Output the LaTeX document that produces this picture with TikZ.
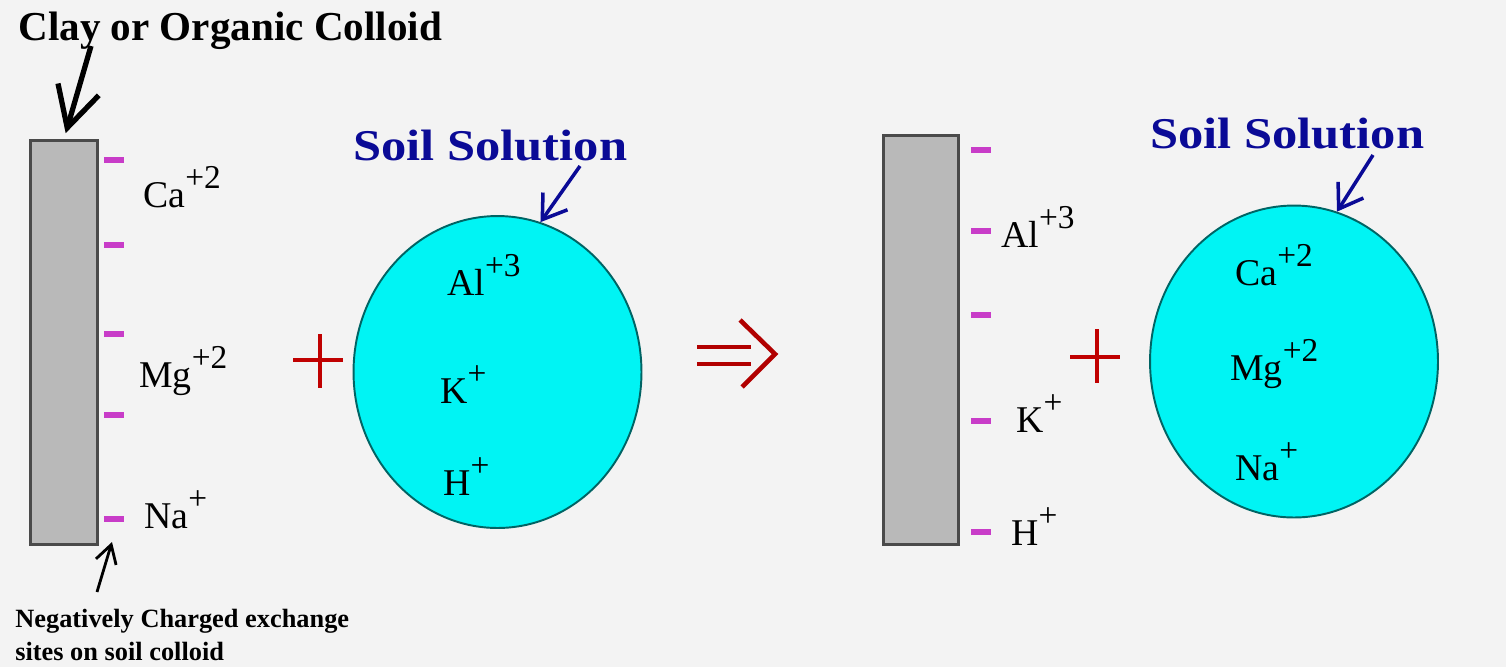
\documentclass[tikz,border=0pt]{standalone}
\usepackage{fontspec}
\setmainfont{Liberation Serif}
\usepackage{tikz}
\usetikzlibrary{arrows.meta,shapes.geometric}

\definecolor{bgcol}{HTML}{F3F3F3}
\definecolor{plategray}{HTML}{B9B9B9}
\definecolor{plateedge}{HTML}{4A4A4A}
\definecolor{cyanfill}{HTML}{00F4F4}
\definecolor{tealedge}{HTML}{006464}
\definecolor{minuscol}{HTML}{C83CC8}
\definecolor{solblue}{HTML}{0A0A96}
\definecolor{plusred}{HTML}{C00000}

\newcommand{\chg}[1]{\raisebox{0.5em}{\fontsize{19}{19}\selectfont #1}}

\begin{document}
\begin{tikzpicture}[x=0.02cm,y=-0.02cm,
  plate/.style={draw=plateedge,line width=1.8pt,fill=plategray,
    minimum width=1.34cm,minimum height=8.08cm,inner sep=0},
  sol/.style={ellipse,draw=tealedge,line width=1.1pt,fill=cyanfill,
    minimum width=5.76cm,minimum height=6.24cm,inner sep=0},
  negsite/.style={fill=minuscol,minimum width=0.4cm,minimum height=0.13cm,inner sep=0},
  ion/.style={anchor=base west,inner sep=0,font=\fontsize{21.5}{24}\selectfont},
  head/.style={anchor=base west,inner sep=0,font=\bfseries\fontsize{23.4}{26}\selectfont},
  tag/.style={anchor=base west,inner sep=0,text=solblue,font=\bfseries\fontsize{25}{28}\selectfont},
  note/.style={anchor=base west,inner sep=0,font=\bfseries\fontsize{15}{18}\selectfont},
  ptr/.style={-{Straight Barb[length=0.8cm,width=0.85cm]},line width=3pt,draw=black},
  smallptr/.style={-{Straight Barb[length=0.36cm,width=0.42cm]},line width=1.6pt,draw=black},
  bptr/.style={-{Straight Barb[length=0.45cm,width=0.6cm]},line width=2pt,draw=solblue},
  plusmark/.style={draw=plusred,line width=2.4pt},
  yields/.style={draw=plusred!92!black,line width=2.6pt}
]
\useasboundingbox[fill=bgcol] (0,0) rectangle (1506,667);

% colloid before exchange
\node[head] (title) at (18,40) {Clay or Organic Colloid};
\node[plate] (plateA) at (64,342.5) {};
\node[negsite] (mA1) at (114,160) {};
\node[negsite] (mA2) at (114,245) {};
\node[negsite] (mA3) at (114,334) {};
\node[negsite] (mA4) at (114,415) {};
\node[negsite] (mA5) at (114,519) {};
\node[ion] (caA) at (143,207) {Ca\chg{+2}};
\node[ion] (mgA) at (139,387) {Mg\chg{+2}};
\node[ion] (naA) at (144,528) {Na\chg{+}};
\node[note] (noteA) at (15,627) {Negatively Charged exchange};
\node[note] (noteB) at (15,660) {sites on soil colloid};
\coordinate (titletail) at (91,46);
\draw[ptr,shorten >=0.12cm] (titletail) -- (plateA.north);
\coordinate (notetail) at (97,592);
\coordinate (notehead) at (112,542);
\draw[smallptr] (notetail) -- (notehead);

% soil solution before exchange
\draw[plusmark] (293,360) -- (343,360) (320,334) -- (320,388);
\node[sol] (solA) at (497.5,372) {};
\node[tag] (tagA) at (353,160) {\scalebox{1.15}[1]{Soil Solution}};
\coordinate (tagAtail) at (580,166);
\draw[bptr] (tagAtail) -- (solA.74);
\node[ion] (alA) at (447,295) {Al\chg{+3}};
\node[ion] (kA) at (440,403) {K\chg{+}};
\node[ion] (hA) at (443,495) {H\chg{+}};

% reaction arrow
\draw[yields] (697,347) -- (751,347) (697,364) -- (751,364);
\draw[yields] (740,320) -- (775,354) -- (742,387);

% colloid after exchange
\node[plate,minimum width=1.5cm,minimum height=8.18cm] (plateB) at (921,340) {};
\node[negsite] (mB1) at (981,150) {};
\node[negsite] (mB2) at (981,231) {};
\node[negsite] (mB3) at (981,315) {};
\node[negsite] (mB4) at (981,421) {};
\node[negsite] (mB5) at (981,532) {};
\node[ion] (alB) at (1001,247) {Al\chg{+3}};
\node[ion] (kB) at (1016,432) {K\chg{+}};
\node[ion] (hB) at (1011,545) {H\chg{+}};

% soil solution after exchange
\draw[plusmark] (1070,357) -- (1120,357) (1097,329) -- (1097,383);
\node[sol] (solB) at (1294,361.5) {};
\node[tag] (tagB) at (1150,148) {\scalebox{1.15}[1]{Soil Solution}};
\coordinate (tagBtail) at (1373,155);
\draw[bptr] (tagBtail) -- (solB.74);
\node[ion] (caB) at (1235,285) {Ca\chg{+2}};
\node[ion] (mgB) at (1230,380) {Mg\chg{+2}};
\node[ion] (naB) at (1235,480) {Na\chg{+}};
\end{tikzpicture}
\end{document}
